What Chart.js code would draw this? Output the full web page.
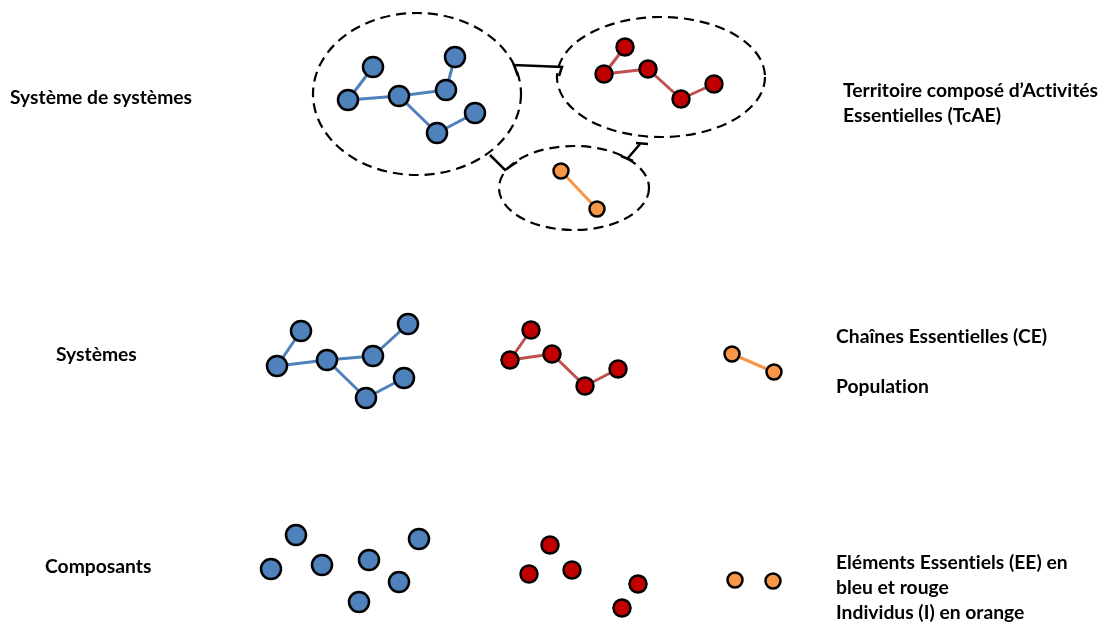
<!DOCTYPE html>
<html>
<head>
<meta charset="utf-8">
<script src="https://cdn.jsdelivr.net/npm/chart.js@4/dist/chart.umd.min.js"></script>
<style>
  html, body { margin: 0; padding: 0; background: #fff; }
  #wrap { width: 1104px; height: 624px; }
</style>
</head>
<body>
<div id="wrap"><canvas id="diagram"></canvas></div>
<script>
"use strict";

// node positions [x, y] (y counted from the top)
const blueTop = [[373, 67], [348, 100], [399, 96], [446, 90], [455, 57], [475, 113], [437, 133]];
const redTop = [[625, 47], [604, 74], [648, 69], [681, 99], [714, 84]];
const orangeTop = [[561, 171], [597, 209]];

const blueMid = [[301, 331], [277, 366], [327, 360], [373, 356], [408, 324], [404, 378], [366, 398]];
const redMid = [[531, 330], [510, 360], [552, 354], [585, 386], [618, 369]];
const orangeMid = [[732, 354], [774, 372]];

const blueLow = [[296, 535], [271, 569], [322, 565], [369, 560], [419, 539], [399, 582], [359, 602]];
const redLow = [[550, 545], [529, 574], [572, 570], [638, 584], [622, 608]];
const orangeLow = [[735, 580], [773, 581]];

// links between nodes (indices)
const blueLinks = [[0, 1], [1, 2], [2, 3], [3, 4], [2, 6], [6, 5]];
const redLinks = [[0, 1], [1, 2], [2, 3], [3, 4]];
const orangeLinks = [[0, 1]];

// dashed groups [cx, cy, rx, ry]
const groups = [[417, 94, 104, 81], [661, 77, 104, 60], [574, 188, 75, 42]];

// connectors between groups
const connectors = [
  [[518, 76], [514, 65], [562, 67], [559, 76]],
  [[490, 155], [505, 170], [517, 162]],
  [[636, 143], [648, 144]],
  [[640, 144], [628, 158]],
  [[621, 156], [633, 161]]
];

// labels [text, x, baseline]
const labels = [
  ["Système de systèmes", 10, 104],
  ["Systèmes", 56, 361],
  ["Composants", 45, 573],
  ["Territoire composé d’Activités", 843, 97],
  ["Essentielles (TcAE)", 843, 122],
  ["Chaînes Essentielles (CE)", 836, 343],
  ["Population", 836, 393],
  ["Eléments Essentiels (EE) en", 836, 569],
  ["bleu et rouge", 836, 594],
  ["Individus (I) en orange", 836, 619]
];

const BLUE = "#4F81BD";
const RED = "#C00000";
const RED_LINK = "#C0504D";
const ORANGE = "#F79646";

const toPts = function (arr) {
  return arr.map(function (p) { return { x: p[0], y: p[1] }; });
};

const datasets = [];

const addLinks = function (nodes, links, color) {
  links.forEach(function (l) {
    datasets.push({
      data: toPts([nodes[l[0]], nodes[l[1]]]),
      showLine: true,
      borderColor: color,
      borderWidth: 3,
      pointRadius: 0,
      order: 2
    });
  });
};

const addNodes = function (nodes, color, r) {
  datasets.push({
    data: toPts(nodes),
    backgroundColor: color,
    borderColor: "#000",
    borderWidth: 2.5,
    pointRadius: r,
    pointHoverRadius: r,
    order: 0
  });
};

[blueTop, blueMid].forEach(function (n) { addLinks(n, blueLinks, BLUE); });
[redTop, redMid].forEach(function (n) { addLinks(n, redLinks, RED_LINK); });
[orangeTop, orangeMid].forEach(function (n) { addLinks(n, orangeLinks, ORANGE); });

connectors.forEach(function (c) {
  datasets.push({
    data: toPts(c),
    showLine: true,
    borderColor: "#000",
    borderWidth: 2.5,
    pointRadius: 0,
    order: 1
  });
});

[blueTop, blueMid, blueLow].forEach(function (n) { addNodes(n, BLUE, 10); });
[redTop, redMid, redLow].forEach(function (n) { addNodes(n, RED, 8.5); });
[orangeTop, orangeMid, orangeLow].forEach(function (n) { addNodes(n, ORANGE, 7.5); });

const groupsPlugin = {
  id: "groups",
  beforeDatasetsDraw: function (chart) {
    const ctx = chart.ctx;
    const xs = chart.scales.x;
    const ys = chart.scales.y;
    ctx.save();
    ctx.strokeStyle = "#000";
    ctx.lineWidth = 2.2;
    ctx.setLineDash([10, 6]);
    groups.forEach(function (g) {
      const cx = xs.getPixelForValue(g[0]);
      const cy = ys.getPixelForValue(g[1]);
      const rx = Math.abs(xs.getPixelForValue(g[0] + g[2]) - cx);
      const ry = Math.abs(ys.getPixelForValue(g[1] + g[3]) - cy);
      ctx.beginPath();
      ctx.ellipse(cx, cy, rx, ry, 0, 0, Math.PI * 2);
      ctx.stroke();
    });
    ctx.restore();
  }
};

const labelsPlugin = {
  id: "labels",
  afterDraw: function (chart) {
    const ctx = chart.ctx;
    const xs = chart.scales.x;
    const ys = chart.scales.y;
    ctx.save();
    // tiny spacing keeps Lato from using its "ti" ligature
    ctx.letterSpacing = "0.01px";
    ctx.font = "bold 100px Lato";
    const size = 100 * 182 / ctx.measureText(labels[0][0]).width;
    ctx.font = "bold " + size.toFixed(2) + "px Lato";
    ctx.fillStyle = "#000";
    ctx.textBaseline = "alphabetic";
    labels.forEach(function (l) {
      ctx.fillText(l[0], xs.getPixelForValue(l[1]), ys.getPixelForValue(l[2]));
    });
    ctx.restore();
  }
};

new Chart(document.getElementById("diagram").getContext("2d"), {
  type: "scatter",
  data: { datasets: datasets },
  options: {
    responsive: true,
    maintainAspectRatio: false,
    animation: false,
    layout: { padding: 0, autoPadding: false },
    plugins: { legend: { display: false }, tooltip: { enabled: false } },
    scales: {
      x: { type: "linear", min: 0, max: 1104, display: false },
      y: { type: "linear", min: 0, max: 624, reverse: true, display: false }
    }
  },
  plugins: [groupsPlugin, labelsPlugin]
});
</script>
</body>
</html>
